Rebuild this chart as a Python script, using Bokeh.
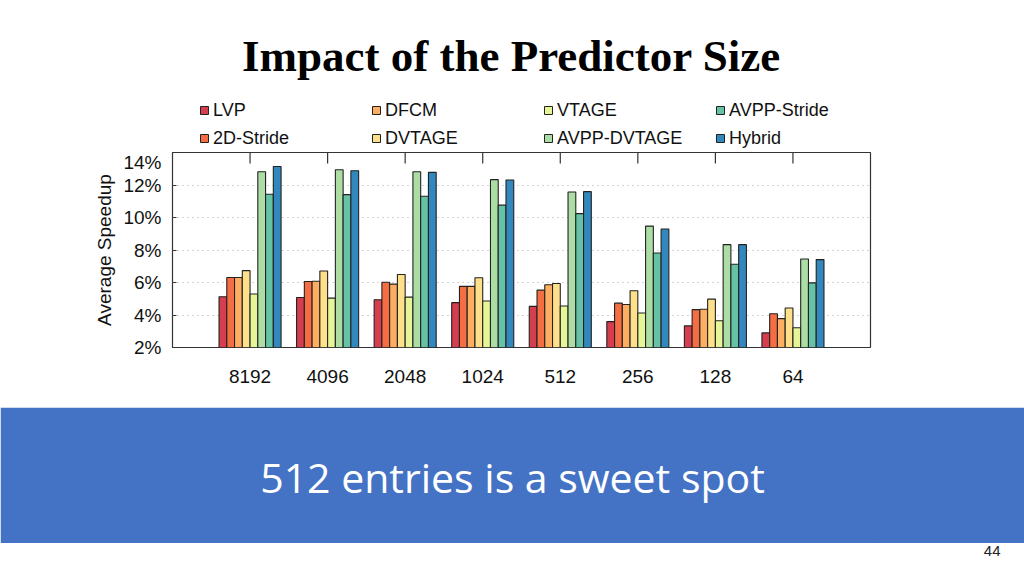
from bokeh.plotting import figure
from bokeh.models import (ColumnDataSource, FactorRange, FixedTicker, PrintfTickFormatter,
                          Legend, LegendItem, Range1d, Title)
from bokeh.transform import dodge
from bokeh.layouts import column
from bokeh.core.properties import value
from bokeh.embed import file_html
from bokeh.resources import INLINE

# ---------------- data ----------------
sizes = ["8192", "4096", "2048", "1024", "512", "256", "128", "64"]
lvp = [5.12, 5.08, 4.94, 4.76, 4.53, 3.59, 3.33, 2.90]
stride_2d = [6.31, 6.06, 6.02, 5.76, 5.53, 4.73, 4.33, 4.08]
dfcm = [6.31, 6.08, 5.90, 5.76, 5.86, 4.65, 4.35, 3.78]
dvtage = [6.73, 6.71, 6.49, 6.29, 5.94, 5.49, 4.98, 4.43]
vtage = [5.29, 5.04, 5.10, 4.86, 4.55, 4.12, 3.65, 3.22]
avpp_dvtage = [12.82, 12.94, 12.82, 12.33, 11.57, 9.47, 8.33, 7.45]
avpp_stride = [11.43, 11.41, 11.31, 10.76, 10.24, 7.82, 7.12, 5.98]
hybrid = [13.14, 12.88, 12.78, 12.31, 11.59, 9.29, 8.33, 7.41]

series_names = ["LVP", "2D-Stride", "DFCM", "DVTAGE", "VTAGE", "AVPP-DVTAGE", "AVPP-Stride", "Hybrid"]
series_values = [lvp, stride_2d, dfcm, dvtage, vtage, avpp_dvtage, avpp_stride, hybrid]
series_colors = ["#d53e4f", "#f46d43", "#fdae61", "#fee08b", "#e6f598", "#abdda4", "#66c2a5", "#3288bd"]
y_ticks = [2, 4, 6, 8, 10, 12, 14]

slide_title = ["Impact of the Predictor Size"]
band_text = ["512 entries is a sweet spot"]
page_number = "44"
y_label = "Average Speedup"

W = 1024
BL, BR = 172, 154          # horizontal borders -> frame spans x 172..870
SANS = "Liberation Sans"
EDGE = "#222222"
BAND = "#4472c4"


def bare(fig):
    fig.grid.visible = False
    fig.outline_line_color = None
    return fig


def strip(height, top=0, bottom=0, **kw):
    return bare(figure(width=W, height=height, x_range=Range1d(BL, W - BR),
                       y_range=Range1d(0, height - top - bottom), x_axis_type=None,
                       y_axis_type=None, output_backend="svg", toolbar_location=None,
                       min_border_left=BL, min_border_right=BR,
                       min_border_top=top, min_border_bottom=bottom, **kw))


# ---------------- title strip ----------------
t = strip(96)
t.text(x=[511], y=[41], text=slide_title, text_font=value("Liberation Serif"),
       text_font_style="bold", text_font_size="45px", text_align="center",
       text_baseline="middle", text_color="#000000")

# ---------------- legend strip ----------------
# legend swatches: one off-screen proxy bar per series carries the style
lg = strip(55)
leg_renderers = {}
for name, col in zip(series_names, series_colors):
    leg_renderers[name] = lg.vbar(x=[-5000], top=[-5000], bottom=[-5001], width=1,
                                  fill_color=col, line_color=EDGE, line_width=1)
legend_columns = [["LVP", "2D-Stride"], ["DFCM", "DVTAGE"],
                  ["VTAGE", "AVPP-DVTAGE"], ["AVPP-Stride", "Hybrid"]]
for ci, names in enumerate(legend_columns):
    lgd = Legend(items=[LegendItem(label=nm, renderers=[leg_renderers[nm]]) for nm in names],
                 orientation="vertical", location=(27 + 172 * ci, -1),
                 glyph_width=10, glyph_height=10, label_standoff=4,
                 label_height=28, spacing=0, padding=0, margin=0,
                 border_line_color=None, background_fill_alpha=0,
                 label_text_font=SANS, label_text_font_size="18px",
                 label_text_color="#111111")
    lg.add_layout(lgd, "center")

# ---------------- chart ----------------
src = dict(size=sizes)
for name, vals in zip(series_names, series_values):
    src[name] = vals
source = ColumnDataSource(src)

p = figure(width=W, height=256, x_range=FactorRange(*sizes, range_padding=0.125),
           y_range=Range1d(2, 14), output_backend="svg", toolbar_location=None,
           min_border_left=BL, min_border_right=BR, min_border_top=1,
           min_border_bottom=60)
p.outline_line_color = "#333333"
p.outline_line_width = 1.2
p.xgrid.visible = False
p.ygrid.ticker = FixedTicker(ticks=y_ticks)
p.ygrid.grid_line_color = "#aaaaaa"
p.ygrid.grid_line_dash = "1 4"
p.ygrid.grid_line_width = 1

n = len(series_names)
bw = 0.1
for i, (name, col) in enumerate(zip(series_names, series_colors)):
    off = (i - (n - 1) / 2) * bw
    p.vbar(x=dodge("size", off, range=p.x_range), top=name, bottom=2, width=bw,
           source=source, fill_color=col, line_color=EDGE, line_width=1.1)

# inward ticks on the top edge at each group centre
tick_len = 11 * (14 - 2) / 195.0
p.segment(x0=sizes, y0=[14] * len(sizes), x1=sizes, y1=[14 - tick_len] * len(sizes),
          line_color="#333333", line_width=1.2)

# axes
p.yaxis.ticker = FixedTicker(ticks=y_ticks)
p.yaxis.formatter = PrintfTickFormatter(format="%d%%")
p.yaxis.axis_line_color = None
p.yaxis.major_tick_in = 4
p.yaxis.major_tick_out = 0
p.yaxis.major_tick_line_color = "#333333"
p.yaxis.minor_tick_line_color = None
p.yaxis.major_label_standoff = 11
p.yaxis.major_label_text_font = SANS
p.yaxis.major_label_text_font_size = "19px"
p.yaxis.major_label_text_color = "#111111"
p.yaxis.axis_label = y_label
p.yaxis.axis_label_text_font = SANS
p.yaxis.axis_label_text_font_size = "19px"
p.yaxis.axis_label_text_font_style = "normal"
p.yaxis.axis_label_text_color = "#111111"
p.yaxis.axis_label_standoff = 5

p.xaxis.axis_line_color = None
p.xaxis.major_tick_line_color = None
p.xaxis.major_label_standoff = 16
p.xaxis.major_label_text_font = SANS
p.xaxis.major_label_text_font_size = "19px"
p.xaxis.major_label_text_color = "#111111"

# ---------------- blue band ----------------
b = strip(136, top=4, bottom=4, background_fill_color=BAND, border_fill_color=BAND)
b.outline_line_color = BAND
b.outline_line_width = 4
b.text(x=[512], y=[63], text=band_text, text_font=value("Open Sans"),
       text_font_size="41px", text_align="center", text_baseline="middle",
       text_color="#ffffff")

# ---------------- footer with page number ----------------
f = bare(figure(width=W, height=33, x_range=Range1d(BL, W - BR), y_range=Range1d(0, 1),
                x_axis_type=None, y_axis_type=None, output_backend="svg",
                toolbar_location=None, min_border_left=BL, min_border_right=BR,
                min_border_top=0, min_border_bottom=0))
f.add_layout(Title(text=page_number, align="right", offset=-130, standoff=0,
                   text_font=SANS, text_font_size="15px", text_font_style="normal",
                   text_color="#222222"), "above")

layout = column(t, lg, p, b, f, spacing=0)
open("out.html", "w").write(file_html(layout, INLINE))
